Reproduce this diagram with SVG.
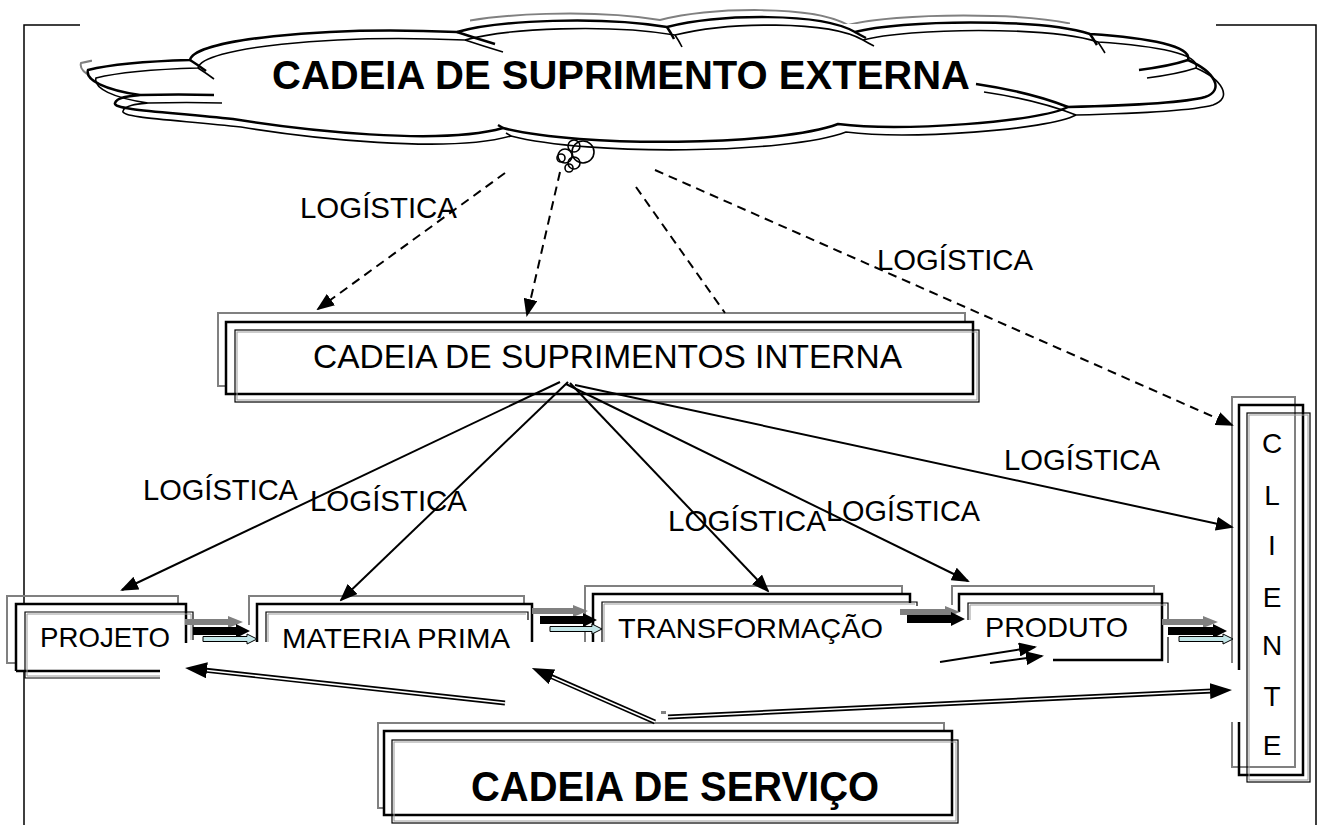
<svg xmlns="http://www.w3.org/2000/svg" xmlns:xlink="http://www.w3.org/1999/xlink" width="1326" height="825" viewBox="0 0 1326 825">
<style>
text{font-family:"Liberation Sans",Arial,sans-serif;fill:#000}
.b40{font-size:40px;font-weight:bold}
.b42{font-size:42px;font-weight:bold}
.r33{font-size:33px}
.r28{font-size:28px}
.lbl{font-size:29px}
.ln{fill:none;stroke:#000}
.gr{fill:none;stroke:#808080;stroke-width:2}
.bk{fill:none;stroke:#000;stroke-width:2.5}
.th{fill:none;stroke:#000;stroke-width:1.2}
.ti{fill:none;stroke:#9a9a9a;stroke-width:1}
.dash{fill:none;stroke:#000;stroke-width:2;stroke-dasharray:9 6}
.sol{fill:none;stroke:#000;stroke-width:2}
.svc{fill:none;stroke:#000;stroke-width:5}
.svw{fill:none;stroke:#fff;stroke-width:1.5}
.ga{fill:#808080}
.ba{fill:#000}
.la{fill:#c3e6e8;stroke:#000;stroke-width:1}
</style>
<defs>
<marker id="ah" markerUnits="userSpaceOnUse" markerWidth="18" markerHeight="14" viewBox="0 0 18 14" refX="16" refY="7" orient="auto"><path d="M0,0 L18,7 L0,14 z" fill="#000"/></marker>
<marker id="bh" markerUnits="userSpaceOnUse" markerWidth="22" markerHeight="16" viewBox="0 0 22 16" refX="12" refY="8" orient="auto"><path d="M0,0 L22,8 L0,16 z" fill="#000"/></marker>
<path id="cloudOutline" d="M88,70 Q120,62 190,60 C194,40 320,26 457,32 C500,20 600,16 667,27 C720,14 820,12 855,32 C900,20 1040,18 1090,34 C1150,38 1192,46 1188,60 C1215,72 1225,90 1205,97 C1180,104 1110,106 1068,107 C1040,122 900,132 838,124 C780,146 580,148 503,128 C440,146 300,130 233,119 C170,112 112,110 115,103 C117,97 130,96 140,95 C105,90 85,80 88,70 Z"/>
<g id="cloudInner">
<path d="M190,60 Q198,65 206,71"/>
<path d="M457,32 Q475,38 495,44"/>
<path d="M667,27 Q671,33 674,39"/>
<path d="M855,32 Q860,35 866,38"/>
<path d="M1090,34 Q1094,40 1097,45"/>
<path d="M1188,60 Q1170,66 1139,70"/>
<path d="M976,84 Q1030,92 1068,107"/>
<path d="M503,128 L498,125"/>
<path d="M140,95 Q180,94 214,95"/>
</g>
<clipPath id="grayClip">
<rect x="470" y="0" width="600" height="24"/>
<rect x="74" y="55" width="18" height="24"/>
</clipPath>
</defs>

<g id="frame">
<path class="ln" stroke-width="1.5" d="M80,25 H24 V825"/>
<path class="ln" stroke-width="1.5" d="M1216,25 H1316 V825"/>
</g>

<g id="cloud-externa">
<g clip-path="url(#grayClip)"><use xlink:href="#cloudOutline" transform="translate(-7,-7)" fill="none" stroke="#808080" stroke-width="2"/></g>
<use xlink:href="#cloudOutline" fill="#fff" stroke="#000" stroke-width="2.5"/>
<use xlink:href="#cloudInner" fill="none" stroke="#000" stroke-width="2.5"/>
<use xlink:href="#cloudOutline" transform="translate(8,8)" fill="none" stroke="#000" stroke-width="1.6"/>
<use xlink:href="#cloudInner" transform="translate(8,8)" fill="none" stroke="#000" stroke-width="1.6"/>
<g class="ln" stroke-width="1.6">
<circle cx="583" cy="152" r="11"/>
<circle cx="574" cy="146" r="6"/>
<circle cx="565" cy="156" r="7"/>
<circle cx="574" cy="163" r="6"/>
<circle cx="561" cy="158" r="4"/>
<circle cx="569" cy="168" r="4"/>
</g>
<text class="b40" x="272" y="89" textLength="698" lengthAdjust="spacingAndGlyphs">CADEIA DE SUPRIMENTO EXTERNA</text>
</g>

<g id="interna">
<rect class="gr" x="218" y="313" width="747" height="73"/>
<rect x="226" y="322" width="747" height="72" fill="#fff" stroke="#000" stroke-width="2.5"/>
<rect class="ti" x="237" y="332" width="740" height="68"/>
<rect class="th" x="235" y="330" width="744" height="72"/>
<text class="r33" x="313" y="368" textLength="589" lengthAdjust="spacingAndGlyphs">CADEIA DE SUPRIMENTOS INTERNA</text>
</g>

<g id="projeto">
<rect class="gr" x="7" y="596" width="171" height="67"/>
<rect x="16" y="604" width="170" height="67" fill="#fff"/>
<path class="bk" d="M16,671 V604 H186 V643 M16,671 H160"/>
<path class="ti" d="M191,640 V614 H27 V676 H160"/>
<path class="th" d="M193,640 V612 H25 V678 H160"/>
<text class="r28" x="40" y="647" textLength="130" lengthAdjust="spacingAndGlyphs">PROJETO</text>
</g>

<g id="materia-prima">
<path class="gr" d="M249,625 V596 H524 V604"/>
<path class="bk" d="M257,642 V604 H532 V642"/>
<path class="ti" d="M268,642 V614 H526"/>
<path class="th" d="M266,642 V612 H528 V620"/>
<text class="r28" x="282" y="648" textLength="228" lengthAdjust="spacingAndGlyphs">MATERIA PRIMA</text>
</g>

<g id="transformacao">
<path class="gr" d="M585,642 V586 H902 V593"/>
<path class="bk" d="M593,642 V594 H910 V603"/>
<path class="ti" d="M604,642 V604 H915"/>
<path class="th" d="M602,642 V602 H917 V606"/>
<text class="r28" x="618" y="638" textLength="265" lengthAdjust="spacingAndGlyphs">TRANSFORMAÇÃO</text>
</g>

<g id="produto">
<path class="gr" d="M952,605 V586 H1154 V594"/>
<path class="bk" d="M959,612 V594 H1162 V660 H1053"/>
<path class="ti" d="M970,620 V605 H1166"/>
<path class="th" d="M968,620 V603 H1168 V619 M1168,637 V663"/>
<text class="r28" x="985" y="637" textLength="143" lengthAdjust="spacingAndGlyphs">PRODUTO</text>
</g>

<g id="cliente">
<path class="gr" d="M1232,663 V397 H1295 V767 H1232 V722"/>
<path class="bk" d="M1239,670 V405 H1303 V775 H1239 V722"/>
<rect class="ti" x="1249" y="415" width="59" height="365"/>
<rect class="th" x="1247" y="413" width="63" height="369"/>
<g class="r28" text-anchor="middle">
<text x="1272" y="453">C</text>
<text x="1272" y="505">L</text>
<text x="1272" y="555">I</text>
<text x="1272" y="607">E</text>
<text x="1272" y="655">N</text>
<text x="1272" y="706">T</text>
<text x="1272" y="755">E</text>
</g>
</g>

<g id="servico">
<rect class="gr" x="378" y="723" width="566" height="85"/>
<rect x="384" y="731" width="568" height="84" fill="#fff" stroke="#000" stroke-width="2.5"/>
<rect class="ti" x="394" y="742" width="562" height="79"/>
<rect class="th" x="392" y="740" width="566" height="83"/>
<text class="b42" x="471" y="801" textLength="408" lengthAdjust="spacingAndGlyphs">CADEIA DE SERVIÇO</text>
</g>

<g id="connectors">
<!-- dashed logistics from external cloud -->
<path class="dash" d="M505,173 L318,309" marker-end="url(#ah)"/>
<path class="dash" d="M560,172 L527,315" marker-end="url(#ah)"/>
<path class="dash" d="M636,187 L725,313"/>
<path class="dash" d="M655,170 L1232,425" marker-end="url(#ah)"/>
<!-- solid from internal chain -->
<path class="sol" d="M560,382 L122,590" marker-end="url(#ah)"/>
<path class="sol" d="M568,382 L341,600" marker-end="url(#ah)"/>
<path class="sol" d="M570,383 L768,591" marker-end="url(#ah)"/>
<path class="sol" d="M566,384 L968,581" marker-end="url(#ah)"/>
<path class="sol" d="M575,385 L1232,527" marker-end="url(#ah)"/>
<!-- block arrows along the chain -->
<polygon class="ga" points="185,619 228,619 228,616 243,622 228,628 228,625 185,625"/>
<polygon class="ba" points="193,627 236,627 236,624 250,631 236,638 236,635 193,635"/>
<polygon class="la" points="203,636.5 247,636.5 247,634 257,639 247,644 247,641.5 203,641.5"/>
<polygon class="ga" points="532,608 573,608 573,605 588,611 573,617 573,614 532,614"/>
<polygon class="ba" points="540,616 583,616 583,613 597,620 583,627 583,624 540,624"/>
<polygon class="la" points="550,626.5 592,626.5 592,624 602,629 592,634 592,631.5 550,631.5"/>
<polygon class="ga" points="900,609 945,609 945,606 960,612 945,618 945,615 900,615"/>
<polygon class="ba" points="907,615 951,615 951,612 965,619 951,626 951,623 907,623"/>
<polygon class="ga" points="1162,619 1203,619 1203,616 1218,622 1203,628 1203,625 1162,625"/>
<polygon class="ba" points="1168,627 1213,627 1213,624 1227,631 1213,638 1213,635 1168,635"/>
<polygon class="la" points="1179,636.5 1223,636.5 1223,634 1233,639 1223,644 1223,641.5 1179,641.5"/>
<!-- service chain arrows -->
<path class="svc" d="M505,703 L195,669" marker-end="url(#bh)"/>
<path class="svw" d="M505,703 L207,670.5"/>
<path class="svc" d="M655,722 L541,672" marker-end="url(#bh)"/>
<path class="svw" d="M655,722 L552,677"/>
<path class="svc" d="M668,717 L1222,690.5" marker-end="url(#bh)"/>
<path class="svw" d="M668,717 L1210,691"/>
<path class="sol" stroke-width="3" d="M940,662 L1035,647" marker-end="url(#ah)"/>
<path class="sol" d="M990,663 L1042,656" marker-end="url(#ah)"/>
<rect x="661" y="711" width="5" height="3" fill="#808080"/>
</g>

<g id="labels" class="lbl">
<text class="lbl" x="300" y="218" textLength="157" lengthAdjust="spacingAndGlyphs">LOGÍSTICA</text>
<text class="lbl" x="877" y="270" textLength="156" lengthAdjust="spacingAndGlyphs">LOGÍSTICA</text>
<text class="lbl" x="1004" y="470" textLength="156" lengthAdjust="spacingAndGlyphs">LOGÍSTICA</text>
<text class="lbl" x="143" y="500" textLength="155" lengthAdjust="spacingAndGlyphs">LOGÍSTICA</text>
<text class="lbl" x="310" y="511" textLength="157" lengthAdjust="spacingAndGlyphs">LOGÍSTICA</text>
<text class="lbl" x="668" y="531" textLength="158" lengthAdjust="spacingAndGlyphs">LOGÍSTICA</text>
<text class="lbl" x="826" y="521" textLength="154" lengthAdjust="spacingAndGlyphs">LOGÍSTICA</text>
</g>
</svg>
